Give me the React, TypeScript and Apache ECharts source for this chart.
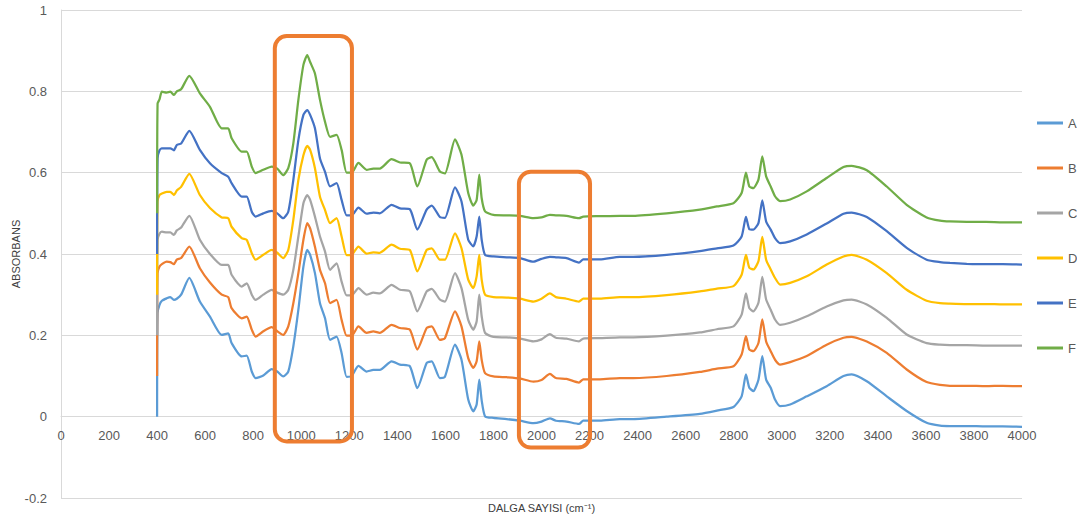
import React, { useEffect, useRef } from "react";
import * as echarts from "echarts";

const wavenumbers = [
  400, 402, 410, 420, 440, 455, 470, 482, 500, 534,
  578, 620, 669, 696, 710, 752, 773, 794, 810, 842,
  877, 900, 925, 946, 967, 988, 1009, 1025, 1037, 1057,
  1078, 1099, 1120, 1147, 1168, 1189, 1210, 1238, 1272, 1300,
  1327, 1376, 1411, 1452, 1483, 1522, 1543, 1577, 1598, 1640,
  1667, 1695, 1716, 1730, 1741, 1751, 1765, 1800, 1855, 1910,
  1966, 2000, 2035, 2060, 2104, 2156, 2174, 2243, 2326, 2382,
  2521, 2659, 2730, 2799, 2833, 2851, 2865, 2882, 2903, 2919,
  2935, 2954, 2972, 2993, 3035, 3104, 3187, 3257, 3291, 3354,
  3437, 3520, 3603, 3659, 3700, 3770, 3850, 3920, 4000,
];

const valuesA = [
  0, 0.255, 0.275, 0.285, 0.291, 0.294, 0.287, 0.29, 0.3, 0.341,
  0.283, 0.246, 0.201, 0.205, 0.181, 0.148, 0.15, 0.111, 0.095, 0.101,
  0.117, 0.111, 0.099, 0.111, 0.173, 0.263, 0.369, 0.41, 0.398, 0.353,
  0.279, 0.242, 0.189, 0.197, 0.156, 0.098, 0.1, 0.125, 0.111, 0.115,
  0.115, 0.136, 0.128, 0.124, 0.07, 0.132, 0.136, 0.095, 0.098, 0.177,
  0.14, 0.042, 0.013, 0.03, 0.091, 0.04, 0.001, -0.003, -0.006, -0.01,
  -0.016, -0.012, -0.004, -0.01, -0.012, -0.018, -0.01, -0.01, -0.006, -0.006,
  0.0, 0.007, 0.015, 0.024, 0.05, 0.104, 0.071, 0.063, 0.091, 0.149,
  0.091, 0.071, 0.042, 0.026, 0.03, 0.05, 0.075, 0.1, 0.104, 0.087,
  0.05, 0.014, -0.015, -0.022, -0.023, -0.023, -0.024, -0.024, -0.025,
];

const valuesB = [
  0.1, 0.353, 0.369, 0.375, 0.381, 0.38, 0.375, 0.386, 0.39, 0.418,
  0.365, 0.33, 0.3, 0.294, 0.267, 0.242, 0.246, 0.214, 0.197, 0.21,
  0.22, 0.21, 0.201, 0.222, 0.279, 0.353, 0.435, 0.476, 0.463, 0.418,
  0.361, 0.328, 0.279, 0.287, 0.238, 0.199, 0.199, 0.222, 0.206, 0.21,
  0.206, 0.226, 0.218, 0.214, 0.165, 0.218, 0.222, 0.189, 0.193, 0.259,
  0.222, 0.144, 0.12, 0.136, 0.185, 0.14, 0.107, 0.099, 0.097, 0.094,
  0.086, 0.09, 0.105, 0.095, 0.093, 0.084, 0.092, 0.092, 0.095, 0.095,
  0.1, 0.11, 0.118, 0.124, 0.153, 0.198, 0.165, 0.161, 0.181, 0.239,
  0.185, 0.161, 0.14, 0.128, 0.134, 0.149, 0.177, 0.194, 0.196, 0.185,
  0.157, 0.116, 0.085, 0.078, 0.076, 0.076, 0.075, 0.076, 0.075,
];

const valuesC = [
  0.2, 0.435, 0.45, 0.455, 0.453, 0.453, 0.447, 0.458, 0.465, 0.494,
  0.435, 0.4, 0.373, 0.373, 0.349, 0.32, 0.328, 0.3, 0.287, 0.3,
  0.312, 0.305, 0.3, 0.312, 0.361, 0.443, 0.525, 0.545, 0.533, 0.492,
  0.443, 0.406, 0.361, 0.377, 0.332, 0.298, 0.298, 0.316, 0.3, 0.305,
  0.303, 0.324, 0.312, 0.308, 0.259, 0.308, 0.314, 0.288, 0.283, 0.353,
  0.316, 0.238, 0.214, 0.234, 0.3, 0.247, 0.206, 0.196, 0.195, 0.192,
  0.185, 0.19, 0.203, 0.194, 0.192, 0.185, 0.192, 0.193, 0.195, 0.195,
  0.199, 0.207, 0.215, 0.222, 0.251, 0.303, 0.267, 0.259, 0.28, 0.344,
  0.288, 0.263, 0.239, 0.226, 0.231, 0.247, 0.271, 0.286, 0.288, 0.276,
  0.243, 0.202, 0.181, 0.177, 0.176, 0.176, 0.175, 0.175, 0.175,
];

const valuesD = [
  0.3, 0.529, 0.545, 0.549, 0.553, 0.553, 0.545, 0.556, 0.565, 0.597,
  0.545, 0.513, 0.49, 0.488, 0.467, 0.439, 0.435, 0.402, 0.386, 0.398,
  0.41, 0.403, 0.39, 0.41, 0.484, 0.582, 0.643, 0.666, 0.656, 0.611,
  0.541, 0.508, 0.476, 0.488, 0.443, 0.397, 0.398, 0.418, 0.401, 0.404,
  0.403, 0.423, 0.413, 0.41, 0.357, 0.41, 0.414, 0.386, 0.386, 0.451,
  0.414, 0.337, 0.316, 0.345, 0.398, 0.337, 0.3, 0.294, 0.293, 0.29,
  0.283, 0.29, 0.303, 0.294, 0.29, 0.283, 0.29, 0.29, 0.294, 0.294,
  0.299, 0.308, 0.315, 0.321, 0.349, 0.398, 0.366, 0.362, 0.382, 0.442,
  0.386, 0.362, 0.341, 0.325, 0.329, 0.345, 0.374, 0.394, 0.398, 0.386,
  0.353, 0.312, 0.285, 0.279, 0.278, 0.277, 0.277, 0.276, 0.276,
];

const valuesE = [
  0.4, 0.635, 0.655, 0.66, 0.66, 0.66, 0.655, 0.668, 0.672, 0.703,
  0.656, 0.623, 0.599, 0.59, 0.574, 0.541, 0.541, 0.504, 0.492, 0.5,
  0.506, 0.5, 0.488, 0.504, 0.582, 0.68, 0.742, 0.754, 0.742, 0.709,
  0.635, 0.602, 0.566, 0.574, 0.533, 0.495, 0.495, 0.514, 0.499, 0.502,
  0.5, 0.521, 0.512, 0.51, 0.46, 0.509, 0.519, 0.491, 0.489, 0.564,
  0.529, 0.435, 0.419, 0.443, 0.492, 0.435, 0.398, 0.394, 0.392, 0.39,
  0.381, 0.388, 0.393, 0.392, 0.39, 0.379, 0.387, 0.387, 0.393, 0.393,
  0.398, 0.407, 0.414, 0.421, 0.443, 0.491, 0.461, 0.46, 0.476, 0.532,
  0.48, 0.46, 0.439, 0.427, 0.431, 0.448, 0.475, 0.499, 0.502, 0.491,
  0.456, 0.415, 0.386, 0.38, 0.378, 0.376, 0.375, 0.375, 0.374,
];

const valuesF = [
  0.5, 0.77, 0.78, 0.799, 0.797, 0.799, 0.791, 0.8, 0.805, 0.838,
  0.795, 0.762, 0.709, 0.709, 0.685, 0.652, 0.652, 0.615, 0.599, 0.607,
  0.615, 0.61, 0.594, 0.611, 0.672, 0.779, 0.865, 0.889, 0.872, 0.844,
  0.779, 0.725, 0.688, 0.693, 0.656, 0.6, 0.6, 0.624, 0.607, 0.61,
  0.61, 0.633, 0.625, 0.623, 0.566, 0.632, 0.638, 0.603, 0.598, 0.682,
  0.644, 0.55, 0.519, 0.533, 0.595, 0.537, 0.505, 0.496, 0.495, 0.494,
  0.488, 0.49, 0.496, 0.495, 0.494, 0.488, 0.492, 0.493, 0.494, 0.494,
  0.5, 0.509, 0.517, 0.525, 0.55, 0.6, 0.566, 0.562, 0.583, 0.64,
  0.591, 0.566, 0.542, 0.53, 0.534, 0.554, 0.587, 0.614, 0.617, 0.606,
  0.566, 0.521, 0.49, 0.482, 0.48, 0.479, 0.479, 0.478, 0.478,
];

const seriesNames = ["A", "B", "C", "D", "E", "F"];
const seriesColors = ["#5B9BD5", "#ED7D31", "#A5A5A5", "#FFC000", "#4472C4", "#70AD47"];

// highlight boxes in data coordinates: [xFrom, xTo, yTop, yBottom]
const highlightBox1 = [890, 1211, 0.936, -0.061];
const highlightBox2 = [1906, 2202, 0.602, -0.076];

const xTitle = "DALGA SAYISI (cm⁻¹)";
const yTitle = "ABSORBANS";

export default function App() {
  const ref = useRef<HTMLDivElement>(null);

  useEffect(() => {
    if (!ref.current) return;
    const chart = echarts.init(ref.current, null, { renderer: "svg" });
    const allValues = [valuesA, valuesB, valuesC, valuesD, valuesE, valuesF];
    const font = "'Liberation Sans', Arial, sans-serif";

    chart.setOption({
      animation: false,
      backgroundColor: "#ffffff",
      textStyle: { fontFamily: font },
      grid: {
        left: 61,
        right: 55,
        top: 10,
        bottom: 27,
        containLabel: false,
        outerBoundsMode: "none",
      },
      xAxis: {
        type: "value",
        min: 0,
        max: 4000,
        interval: 200,
        axisLine: { show: true, onZero: false, lineStyle: { color: "#D9D9D9", width: 1 } },
        axisTick: { show: false },
        splitLine: { show: false },
        axisLabel: {
          color: "#595959",
          fontSize: 13,
          margin: 12,
          fontFamily: font,
          formatter: (v: number) => String(v),
        },
        name: xTitle,
        nameLocation: "middle",
        nameGap: 86,
        nameMoveOverlap: false,
        nameTextStyle: { color: "#404040", fontSize: 11, fontFamily: font },
      },
      yAxis: {
        type: "value",
        min: -0.2,
        max: 1,
        interval: 0.2,
        axisLine: { show: true, lineStyle: { color: "#D9D9D9", width: 1 } },
        axisTick: { show: false },
        splitLine: { show: true, lineStyle: { color: "#D9D9D9", width: 1 } },
        axisLabel: {
          color: "#595959",
          fontSize: 13,
          margin: 14,
          fontFamily: font,
          formatter: (v: number) => String(Math.round(v * 10) / 10),
        },
        name: yTitle,
        nameLocation: "middle",
        nameGap: 40,
        nameMoveOverlap: false,
        nameRotate: 90,
        nameTextStyle: { color: "#404040", fontSize: 11, fontFamily: font },
      },
      legend: {
        orient: "vertical",
        left: 1032,
        top: 111,
        icon: "rect",
        itemWidth: 26,
        itemHeight: 3,
        itemGap: 31,
        data: seriesNames,
        textStyle: { color: "#595959", fontSize: 13, fontFamily: font, lineHeight: 14 },
      },
      series: allValues.map((vals, i) => ({
        name: seriesNames[i],
        type: "line",
        data: wavenumbers.map((w, j) => [w, vals[j]]),
        symbol: "none",
        showSymbol: false,
        smooth: 0.2,
        lineStyle: { width: 2.25, color: seriesColors[i] },
        itemStyle: { color: seriesColors[i] },
      })),
    });

    // place the horizontal axis on the zero line (as in the original chart)
    const zeroPx = (chart.convertToPixel({ gridIndex: 0 }, [0, 0]) as number[])[1];
    const bottomPx = (chart.convertToPixel({ gridIndex: 0 }, [0, -0.2]) as number[])[1];

    const boxes = [highlightBox1, highlightBox2].map((b) => {
      const p1 = chart.convertToPixel({ gridIndex: 0 }, [b[0], b[2]]) as number[];
      const p2 = chart.convertToPixel({ gridIndex: 0 }, [b[1], b[3]]) as number[];
      return {
        type: "rect",
        z: 100,
        shape: { x: p1[0], y: p1[1], width: p2[0] - p1[0], height: p2[1] - p1[1], r: 12 },
        style: { fill: "none", stroke: "#ED7D31", lineWidth: 4 },
      };
    });
    chart.setOption({ xAxis: { offset: zeroPx - bottomPx }, graphic: boxes });

    return () => chart.dispose();
  }, []);

  return (
    <div
      ref={ref}
      style={{ position: "fixed", left: 0, top: 0, width: 1077, height: 525, background: "#fff" }}
    />
  );
}
